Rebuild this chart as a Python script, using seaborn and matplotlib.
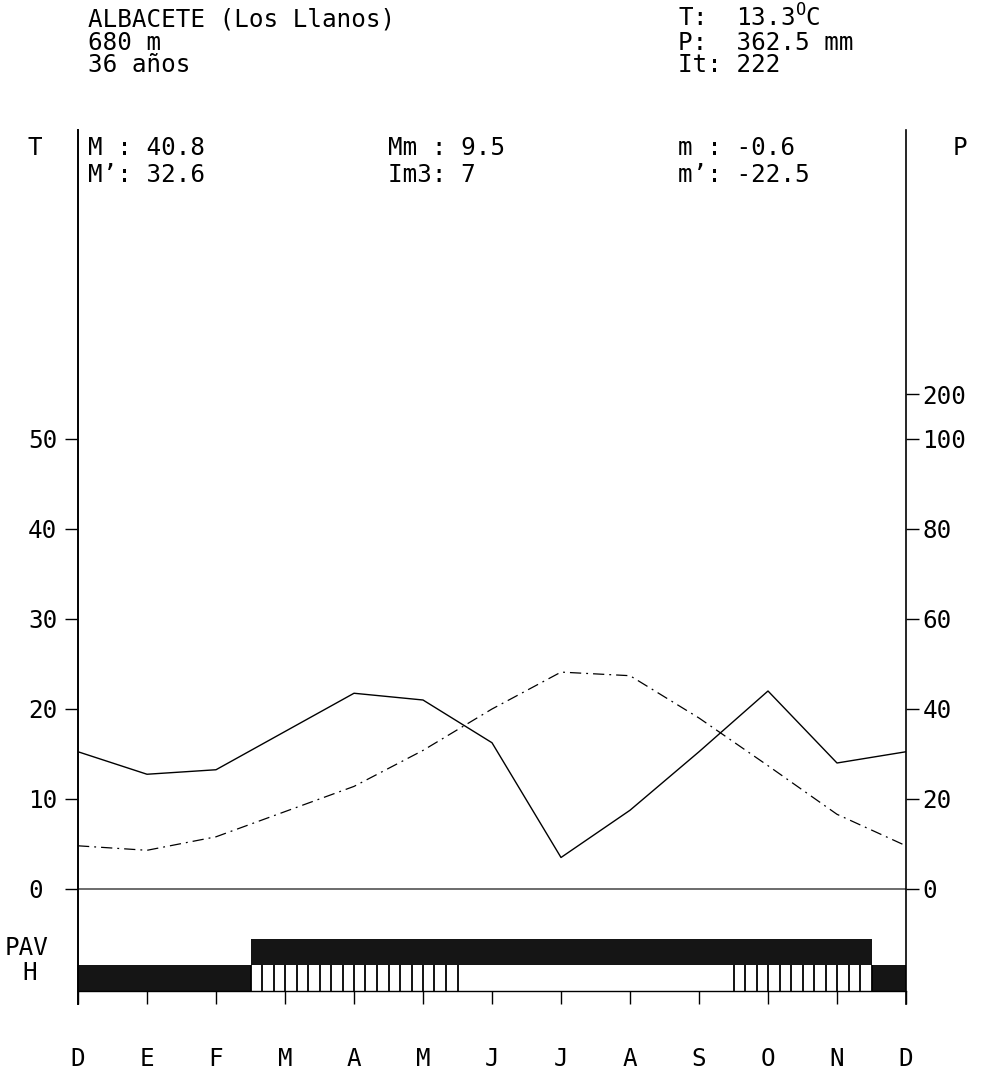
import numpy as np
import pandas as pd
import matplotlib
matplotlib.use("Agg")
import matplotlib.pyplot as plt
import seaborn as sns

# ---------------- data ----------------
months = ["D", "E", "F", "M", "A", "M", "J", "J", "A", "S", "O", "N", "D"]
temp_c = [4.8, 4.3, 5.8, 8.6, 11.4, 15.4, 20.0, 24.1, 23.7, 19.0, 13.7, 8.3, 4.8]
precip_mm = [30.5, 25.5, 26.5, 35.0, 43.5, 42.0, 32.5, 7.0, 17.5, 30.5, 44.0, 28.0, 30.5]

temp_ticks = [0, 10, 20, 30, 40, 50]
precip_ticks = [0, 20, 40, 60, 80, 100, 200]

station_lines = ["ALBACETE (Los Llanos)", "680 m", "36 años"]
summary_lines = [r"T:  13.3$^{\mathrm{O}}$C", "P:  362.5 mm", "It: 222"]
stats_cols = [["M : 40.8", "M’: 32.6"], ["Mm : 9.5", "Im3: 7"], ["m : -0.6", "m’: -22.5"]]

# periods (in month units from the first D)
pav_period = [(2.5, 11.5)]            # probable frost period (black bar)
h_black = [(0.0, 2.5), (11.5, 12.0)]  # certain frost
h_hatched = [(2.5, 5.5), (9.5, 11.5)] # probable frost (hatched)

# ---------------- style ----------------
sns.set_style("white")
plt.rcParams["font.family"] = ["DejaVu Sans Mono", "DejaVu Sans"]
plt.rcParams["mathtext.fontset"] = "custom"
plt.rcParams["mathtext.rm"] = "DejaVu Sans Mono"
FS = 17.5

W, H = 992, 1074
fig = plt.figure(figsize=(W / 100, H / 100), dpi=100)

# axes geometry in pixels
ax_l, ax_r, ax_t, ax_b = 78, 906, 130, 1004
zero_px = 889
ax = fig.add_axes([ax_l / W, (H - ax_b) / H, (ax_r - ax_l) / W, (ax_b - ax_t) / H])
ppd = 9.0  # px per degree
ylo = -(ax_b - zero_px) / ppd
yhi = (zero_px - ax_t) / ppd
ax.set_ylim(ylo, yhi)
ax.set_xlim(0, len(months) - 1)

x = np.arange(len(months))
df = pd.DataFrame({"x": x, "T": temp_c, "P": precip_mm})

# zero line
ax.axhline(0, color="#444444", lw=1.1, zorder=1)

# temperature (dash-dot)
sns.lineplot(data=df, x="x", y="T", ax=ax, color="black", lw=0.9,
             linestyle=(0, (9, 4, 1.5, 4)), zorder=3)

# precipitation on twin axis (2 mm = 1 degC, 1/10 above 100 mm)
def p_scale(v):
    v = np.asarray(v, dtype=float)
    return np.where(v > 100, 100 + (v - 100) / 10.0, v)

ax2 = ax.twinx()
ax2.set_ylim(2 * ylo, 2 * yhi)
df["Ps"] = p_scale(df["P"])
sns.lineplot(data=df, x="x", y="Ps", ax=ax2, color="black", lw=1.0, zorder=3)

# frost bars
row_pav = (-(939 - zero_px) / ppd, -(965 - zero_px) / ppd)
row_h = (-(965 - zero_px) / ppd, -(991 - zero_px) / ppd)
for a, b in pav_period:
    ax.broken_barh([(a, b - a)], (row_pav[1], row_pav[0] - row_pav[1]),
                   facecolor="#151515", edgecolor="none", zorder=2)
for a, b in h_black:
    ax.broken_barh([(a, b - a)], (row_h[1], row_h[0] - row_h[1]),
                   facecolor="#151515", edgecolor="none", zorder=2)
for a, b in h_hatched:
    xs = np.linspace(a, b, int(round((b - a) * 6)) + 1)
    ax.vlines(xs, row_h[1], row_h[0], color="black", lw=1.3, zorder=2)

# spines
for s in ["top"]:
    ax.spines[s].set_visible(False)
for s in ["top", "bottom", "left"]:
    ax2.spines[s].set_visible(False)
ax.spines["left"].set_linewidth(1.4)
ax.spines["left"].set_color("black")
ax2.spines["right"].set_linewidth(1.2)
ax2.spines["right"].set_color("black")
ax.spines["right"].set_visible(False)
ax.spines["bottom"].set_position(("data", row_h[1]))
ax.spines["bottom"].set_linewidth(1.0)
ax.spines["bottom"].set_color("black")

# ticks
ax.set_xticks(x)
ax.set_xticklabels(months, fontsize=FS)
ax.tick_params(axis="x", which="major", bottom=True, labelbottom=True, direction="out",
               length=9.4, width=1.0, pad=31, colors="black")
ax.set_yticks(temp_ticks)
ax.set_yticklabels([str(t) for t in temp_ticks], fontsize=FS, ha="left")
ax.tick_params(axis="y", left=True, direction="out", length=9.4, width=1.0, pad=26.5,
               colors="black")
ax.set_xlabel("")
ax.set_ylabel("")

ax2.tick_params(axis="x", bottom=False, top=False, labelbottom=False, labeltop=False)
ax2.set_yticks(p_scale(precip_ticks))
ax2.set_yticklabels([str(p) for p in precip_ticks], fontsize=FS)
ax2.tick_params(axis="y", right=True, direction="out", length=9.4, width=1.0, pad=2.5,
                colors="black")
ax2.set_ylabel("")
ax2.set_xlabel("")

# ---------------- texts ----------------
def ftxt(px, py, s, **kw):
    fig.text(px / W, 1 - py / H, s, fontsize=FS, color="black", va="baseline", **kw)

for i, s in enumerate(station_lines):
    ftxt(88, 27 + 22.5 * i, s)
for i, s in enumerate(summary_lines):
    ftxt(678, 27 + 22.5 * i, s)

ftxt(27, 155, "T")
ftxt(953, 155, "P")
for cx, col in zip([88, 388, 678], stats_cols):
    for j, s in enumerate(col):
        ftxt(cx, 155 + 27 * j, s)

ftxt(5, 955, "PAV")
ftxt(22, 980, "H")

fig.savefig("out.png", dpi=100, facecolor="white")
